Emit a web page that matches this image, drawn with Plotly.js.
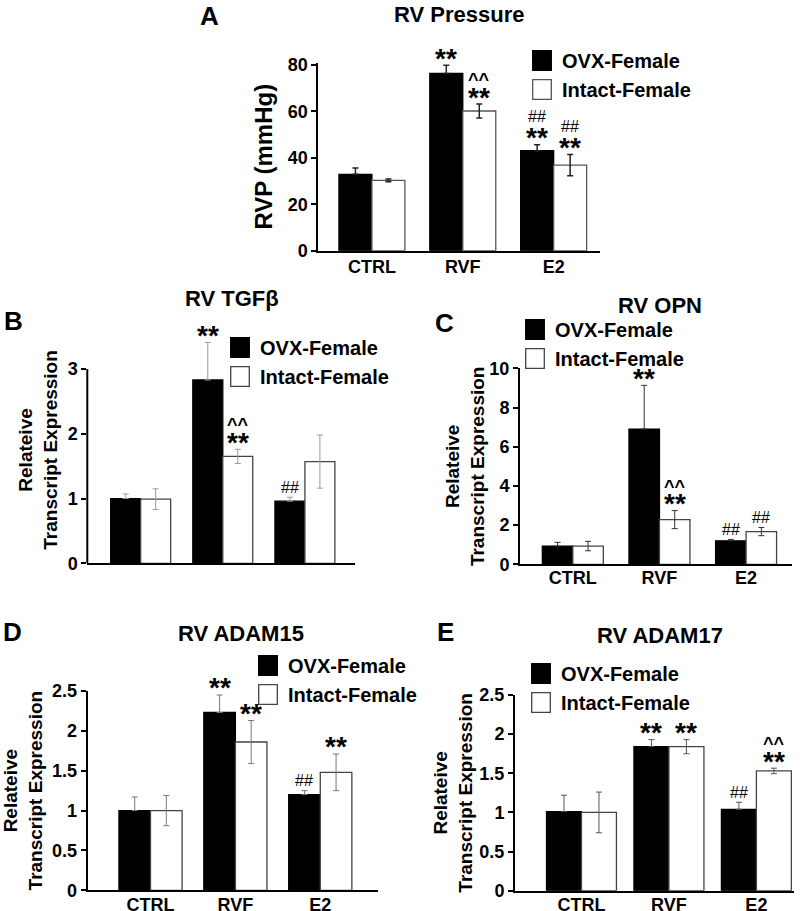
<!DOCTYPE html>
<html><head><meta charset="utf-8">
<script src="https://cdn.plot.ly/plotly-3.0.1.min.js"></script>
<style>html,body{margin:0;padding:0;background:#fff}#chart{width:805px;height:911px}</style>
</head><body><div id="chart"></div>
<script>
// ---------- data ----------
const categories = ['CTRL', 'RVF', 'E2'];
const groupNames = ['OVX-Female', 'Intact-Female'];

// A: RV Pressure (mmHg)
const rvpOVX = [32.9, 76.4, 43.1];
const rvpOVXErr = [2.7, 3.5, 2.6];
const rvpIntact = [30.3, 60.2, 36.9];
const rvpIntactErr = [0.6, 3.0, 4.6];
const rvpStarOVX = ['', '**', '**'];
const rvpMarkOVX = ['', '', '##'];
const rvpStarIntact = ['', '**', '**'];
const rvpMarkIntact = ['', '^^', '##'];
const rvpTicks = [0, 20, 40, 60, 80];

// B: RV TGFβ
const tgfOVX = [1.0, 2.83, 0.96];
const tgfOVXErr = [0.07, 0.58, 0.06];
const tgfIntact = [0.99, 1.65, 1.57];
const tgfIntactErr = [0.16, 0.11, 0.41];
const tgfStarOVX = ['', '**', ''];
const tgfMarkOVX = ['', '', '##'];
const tgfStarIntact = ['', '**', ''];
const tgfMarkIntact = ['', '^^', ''];
const tgfTicks = [0, 1, 2, 3];

// C: RV OPN
const opnOVX = [0.93, 6.9, 1.2];
const opnOVXErr = [0.19, 2.23, 0.07];
const opnIntact = [0.93, 2.28, 1.67];
const opnIntactErr = [0.24, 0.46, 0.21];
const opnStarOVX = ['', '**', ''];
const opnMarkOVX = ['', '', '##'];
const opnStarIntact = ['', '**', ''];
const opnMarkIntact = ['', '^^', '##'];
const opnTicks = [0, 2, 4, 6, 8, 10];

// D: RV ADAM15
const a15OVX = [1.0, 2.23, 1.2];
const a15OVXErr = [0.17, 0.22, 0.05];
const a15Intact = [1.0, 1.86, 1.48];
const a15IntactErr = [0.19, 0.27, 0.23];
const a15StarOVX = ['', '**', ''];
const a15MarkOVX = ['', '', '##'];
const a15StarIntact = ['', '**', '**'];
const a15MarkIntact = ['', '', ''];
const a15Ticks = [0, 0.5, 1, 1.5, 2, 2.5];

// E: RV ADAM17
const a17OVX = [1.01, 1.84, 1.04];
const a17OVXErr = [0.21, 0.09, 0.09];
const a17Intact = [1.0, 1.84, 1.53];
const a17IntactErr = [0.26, 0.09, 0.035];
const a17StarOVX = ['', '**', ''];
const a17MarkOVX = ['', '', '##'];
const a17StarIntact = ['', '**', '**'];
const a17MarkIntact = ['', '', '^^'];
const a17Ticks = [0, 0.5, 1, 1.5, 2, 2.5];

// ---------- layout config ----------
const FONT = 'Arial, "Liberation Sans", Helvetica, sans-serif';
const W = 805, H = 911;
const px = v => v / W;
const py = v => 1 - v / H;
const relTitle = 'Relateive<br>Transcript Expression';

const panels = [
  {letter: 'A', title: 'RV Pressure', ytitle: 'RVP (mmHg)', ytSize: 24, standoff: 8, tls: -1,
   ovx: rvpOVX, ovxErr: rvpOVXErr, int: rvpIntact, intErr: rvpIntactErr,
   sO: rvpStarOVX, mO: rvpMarkOVX, sI: rvpStarIntact, mI: rvpMarkIntact, ticks: rvpTicks,
   x0: 318.3, x1: 600, yBot: 250.7, yTop: 65 - 2.3, yrange: [0, 81], xrange: [-0.59, 2.51], w: 0.363,
   showX: true, errColor: '#222', errThick: 1.5, edge: '#555',
   leg: [522, 41], tpos: [459, 14], lpos: [209, 16]},
  {letter: 'B', title: 'RV TGFβ', ytitle: relTitle, ytSize: 19, standoff: 5, tls: 0,
   ovx: tgfOVX, ovxErr: tgfOVXErr, int: tgfIntact, intErr: tgfIntactErr,
   sO: tgfStarOVX, mO: tgfMarkOVX, sI: tgfStarIntact, mI: tgfMarkIntact, ticks: tgfTicks,
   x0: 87.3, x1: 355, yBot: 563.3, yTop: 563.3 - 3.5 * 64.77, yrange: [0, 3.5], lineTop: 3, xrange: [-0.65, 2.61], w: 0.365,
   showX: false, errColor: '#999', errThick: 1, edge: '#444',
   leg: [220, 328], tpos: [232, 298], lpos: [13, 321]},
  {letter: 'C', title: 'RV OPN', ytitle: relTitle, ytSize: 19, standoff: 0, tls: -4,
   ovx: opnOVX, ovxErr: opnOVXErr, int: opnIntact, intErr: opnIntactErr,
   sO: opnStarOVX, mO: opnMarkOVX, sI: opnStarIntact, mI: opnMarkIntact, ticks: opnTicks,
   x0: 520, x1: 792, yBot: 564.3, yTop: 368.3, yrange: [0, 10], xrange: [-0.61, 2.53], w: 0.352,
   showX: true, errColor: '#333', errThick: 1, edge: '#444',
   leg: [515, 310], tpos: [660, 305], lpos: [444, 323]},
  {letter: 'D', title: 'RV ADAM15', ytitle: relTitle, ytSize: 19, standoff: 12, tls: -3,
   ovx: a15OVX, ovxErr: a15OVXErr, int: a15Intact, intErr: a15IntactErr,
   sO: a15StarOVX, mO: a15MarkOVX, sI: a15StarIntact, mI: a15MarkIntact, ticks: a15Ticks,
   x0: 87.7, x1: 378, yBot: 890.3, yTop: 691, yrange: [0, 2.5], xrange: [-0.74, 2.68], w: 0.372,
   showX: true, errColor: '#777', errThick: 1, edge: '#444',
   leg: [248, 646], tpos: [241, 633], lpos: [12, 632]},
  {letter: 'E', title: 'RV ADAM17', ytitle: relTitle, ytSize: 19, standoff: 2, tls: -3,
   ovx: a17OVX, ovxErr: a17OVXErr, int: a17Intact, intErr: a17IntactErr,
   sO: a17StarOVX, mO: a17MarkOVX, sI: a17StarIntact, mI: a17MarkIntact, ticks: a17Ticks,
   x0: 515, x1: 794, yBot: 890.7, yTop: 695, yrange: [0, 2.5], xrange: [-0.76, 2.43], w: 0.40,
   showX: true, errColor: '#555', errThick: 1, edge: '#444',
   leg: [521, 654], tpos: [660, 635], lpos: [446, 632]}
];

const data = [];
const layout = {
  width: W, height: H, margin: {l: 0, r: 0, t: 0, b: 0},
  paper_bgcolor: '#fff', plot_bgcolor: 'rgba(0,0,0,0)',
  font: {family: FONT, color: '#000'},
  showlegend: true, barmode: 'overlay', annotations: [], shapes: []
};
const catIdx = categories.map((c, i) => i);

panels.forEach((p, i) => {
  const s = i === 0 ? '' : String(i + 1);
  const xa = 'x' + s, ya = 'y' + s, lg = 'legend' + s;
  const series = [
    {name: groupNames[0], y: p.ovx, err: p.ovxErr, fill: '#000', line: '#000', off: -p.w, star: p.sO, mark: p.mO, onlyUp: true},
    {name: groupNames[1], y: p.int, err: p.intErr, fill: '#fff', line: p.edge, off: 0, star: p.sI, mark: p.mI, onlyUp: false}
  ];
  series.forEach(sr => {
    const ey = {type: 'data', array: sr.err, color: p.errColor, thickness: p.errThick, width: 3};
    if (sr.onlyUp) { ey.symmetric = false; }
    data.push({
      type: 'bar', x: catIdx, y: sr.y, width: p.w, offset: sr.off,
      xaxis: xa, yaxis: ya, name: sr.name, legend: lg, legendgroup: sr.name + s,
      marker: {color: sr.fill, line: {color: sr.line, width: 1.3}},
      error_y: ey, hoverinfo: 'skip', cliponaxis: false
    });
    sr.y.forEach((v, k) => {
      const top = v + sr.err[k];
      const xpos = k + sr.off + p.w / 2;
      if (sr.star[k]) {
        layout.annotations.push({xref: xa, yref: ya, x: xpos, y: top, text: sr.star[k], showarrow: false,
          yanchor: 'middle', xanchor: 'center', yshift: 7, font: {size: 28, weight: 'bold', family: FONT}});
      }
      if (sr.mark[k]) {
        const isHash = sr.mark[k].indexOf('#') >= 0;
        layout.annotations.push({xref: xa, yref: ya, x: xpos, y: top, text: sr.mark[k], showarrow: false,
          yanchor: 'middle', xanchor: 'center', yshift: sr.star[k] ? (isHash ? 28 : 24) : 10,
          font: isHash ? {size: 16, family: FONT} : {size: 18, weight: 'bold', family: FONT}});
      }
    });
  });

  layout['xaxis' + s] = {
    domain: [px(p.x0), px(p.x1)], anchor: ya, type: 'linear', range: p.xrange,
    tickvals: catIdx, ticktext: categories, showticklabels: p.showX, ticks: '', ticklabelstandoff: p.tls,
    showline: true, linewidth: 2, linecolor: '#000', showgrid: false, zeroline: false,
    tickfont: {size: 18, weight: 'bold', family: FONT, color: '#000'}, fixedrange: true
  };
  layout['yaxis' + s] = {
    domain: [py(p.yBot), py(p.yTop)], anchor: xa, range: p.yrange,
    tickvals: p.ticks, ticks: 'outside', ticklen: 5, tickwidth: 2, tickcolor: '#000',
    showline: p.lineTop === undefined, linewidth: 2, linecolor: '#000',
    showgrid: false, zeroline: false, fixedrange: true,
    tickfont: {size: 18, weight: 'bold', family: FONT, color: '#000'},
    title: {text: p.ytitle, standoff: p.standoff, font: {size: p.ytSize, weight: 'bold', family: FONT, color: '#000'}}
  };
  if (p.lineTop !== undefined) {
    layout.shapes.push({type: 'line', xref: xa + ' domain', yref: ya, x0: 0, x1: 0, y0: 0, y1: p.lineTop,
      line: {color: '#000', width: 2}});
  }
  layout[lg] = {
    x: px(p.leg[0]), y: py(p.leg[1]), xanchor: 'left', yanchor: 'top',
    bgcolor: 'rgba(0,0,0,0)', borderwidth: 0, traceorder: 'normal', tracegroupgap: 3,
    font: {size: 20, weight: 'bold', family: FONT, color: '#000'}, itemclick: false, itemdoubleclick: false
  };
  layout.annotations.push({xref: 'paper', yref: 'paper', x: px(p.tpos[0]), y: py(p.tpos[1]), text: p.title,
    showarrow: false, xanchor: 'center', yanchor: 'middle', font: {size: 22, weight: 'bold', family: FONT}});
  layout.annotations.push({xref: 'paper', yref: 'paper', x: px(p.lpos[0]), y: py(p.lpos[1]), text: p.letter,
    showarrow: false, xanchor: 'center', yanchor: 'middle', font: {size: 26, weight: 'bold', family: FONT}});
});

Plotly.newPlot('chart', data, layout, {staticPlot: true, displayModeBar: false}).then(gd => {
  gd.querySelectorAll('.legendpoints path').forEach(el => {
    const t = el.getAttribute('transform') || '';
    el.setAttribute('transform', t + ' scale(1.55,1.65)');
    el.style.vectorEffect = 'non-scaling-stroke';
  });
});
</script>
</body></html>
